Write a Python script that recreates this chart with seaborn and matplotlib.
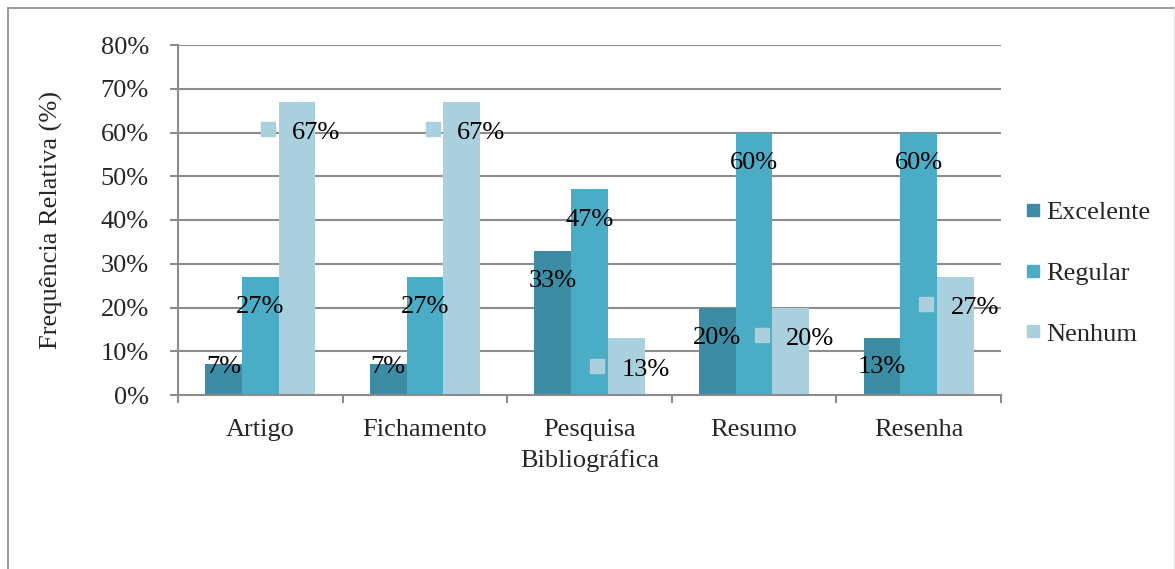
import matplotlib
matplotlib.use("Agg")
import matplotlib.pyplot as plt
import matplotlib.transforms as mtransforms
from matplotlib.lines import Line2D
import seaborn as sns
import pandas as pd

categories = ["Artigo", "Fichamento", "Pesquisa\nBibliográfica", "Resumo", "Resenha"]
series = ["Excelente", "Regular", "Nenhum"]
excelente = [7, 7, 33, 20, 13]
regular = [27, 27, 47, 60, 60]
nenhum = [67, 67, 13, 20, 27]
yticks = [0, 10, 20, 30, 40, 50, 60, 70, 80]
colors = ["#3C8CA3", "#4BACC6", "#AACFDD"]

rows = []
for s, vals in zip(series, [excelente, regular, nenhum]):
    for c, v in zip(categories, vals):
        rows.append({"Categoria": c, "Série": s, "Valor": v})
df = pd.DataFrame(rows)

sns.set_style("white")
plt.rcParams["font.family"] = ["Liberation Serif", "DejaVu Serif"]
FS = 19

fig = plt.figure(figsize=(11.75, 5.69), dpi=100)
ax = fig.add_axes([178 / 1175, 1 - 395 / 569, (1001 - 178) / 1175, 350 / 569])

sns.barplot(data=df, x="Categoria", y="Valor", hue="Série", order=categories,
            hue_order=series, palette=colors, width=0.67, saturation=1,
            linewidth=0, ax=ax, legend=False, errorbar=None)

ax.set_xlim(-0.5, len(categories) - 0.5)
ax.set_ylim(0, 80)
ax.set_yticks(yticks)
ax.set_yticklabels([f"{t}%" for t in yticks], fontsize=FS)
ax.yaxis.grid(True, color="#8C8C8C", linewidth=1.5)
ax.set_axisbelow(True)
ax.tick_params(axis="y", length=6, width=1.5, color="#8C8C8C", pad=15, direction="out", left=True)
ax.set_xticks(range(len(categories)))
ax.set_xticklabels(categories, fontsize=FS, linespacing=1.45)
ax.tick_params(axis="x", which="major", length=0, pad=17)
ax.set_xticks([i - 0.5 for i in range(len(categories) + 1)], minor=True)
ax.tick_params(axis="x", which="minor", length=6, width=1.5, color="#8C8C8C", direction="out", bottom=True)
ax.set_xlabel("")
ax.set_ylabel("Frequência Relativa (%)", fontsize=FS, labelpad=27)
for sp in ["top", "right"]:
    ax.spines[sp].set_visible(False)
for sp in ["left", "bottom"]:
    ax.spines[sp].set_color("#8C8C8C")
    ax.spines[sp].set_linewidth(1.5)

# data labels: seaborn adds patches grouped by hue level
n = len(categories)
allp = ax.patches[: len(series) * n]
bars = {}
for si, s in enumerate(series):
    bars[s] = sorted(allp[si * n:(si + 1) * n], key=lambda p: p.get_x())

px = 72 / 100  # points per pixel
for s, vals in zip(series, [excelente, regular, nenhum]):
    for p, v in zip(bars[s], vals):
        xc = p.get_x() + p.get_width() / 2
        if s == "Excelente":
            ly = max(v - 6.5, 6.9)
        else:
            ly = v - 6.5
        if s == "Nenhum":
            ax.plot([xc], [ly], marker="s", markersize=14 * px, color=colors[2],
                    linestyle="none",
                    transform=ax.transData + mtransforms.ScaledTranslation(-29 / 100, 1 / 100, fig.dpi_scale_trans),
                    clip_on=False, zorder=5)
            ax.annotate(f"{v}%", xy=(xc, ly), xytext=(-5 * px, -3 * px), textcoords="offset points",
                        ha="left", va="center", fontsize=FS, color="black", zorder=6)
        else:
            ax.annotate(f"{v}%", xy=(xc, ly), xytext=(0, -2 * px), textcoords="offset points",
                        ha="center", va="center", fontsize=FS, color="black", zorder=6)

handles = [Line2D([0], [0], marker="s", linestyle="none", markersize=9, color=c) for c in colors]
fig.legend(handles, series, loc="center left", bbox_to_anchor=(1024 / 1175, 1 - 273 / 569),
           frameon=False, fontsize=FS, handletextpad=0.15, labelspacing=1.42,
           handlelength=0.7, borderaxespad=0, borderpad=0)

# chart border
fig.add_artist(Line2D([8 / 1175, 8 / 1175], [0, 1 - 8 / 569], transform=fig.transFigure, color="#8A8A8A", linewidth=1.2))
fig.add_artist(Line2D([8 / 1175, 1174 / 1175], [1 - 8 / 569, 1 - 8 / 569], transform=fig.transFigure, color="#8A8A8A", linewidth=1.2))
fig.add_artist(Line2D([1173.5 / 1175, 1173.5 / 1175], [0, 1 - 8 / 569], transform=fig.transFigure, color="#E6E6E6", linewidth=1))

fig.savefig("out.png", dpi=100)
